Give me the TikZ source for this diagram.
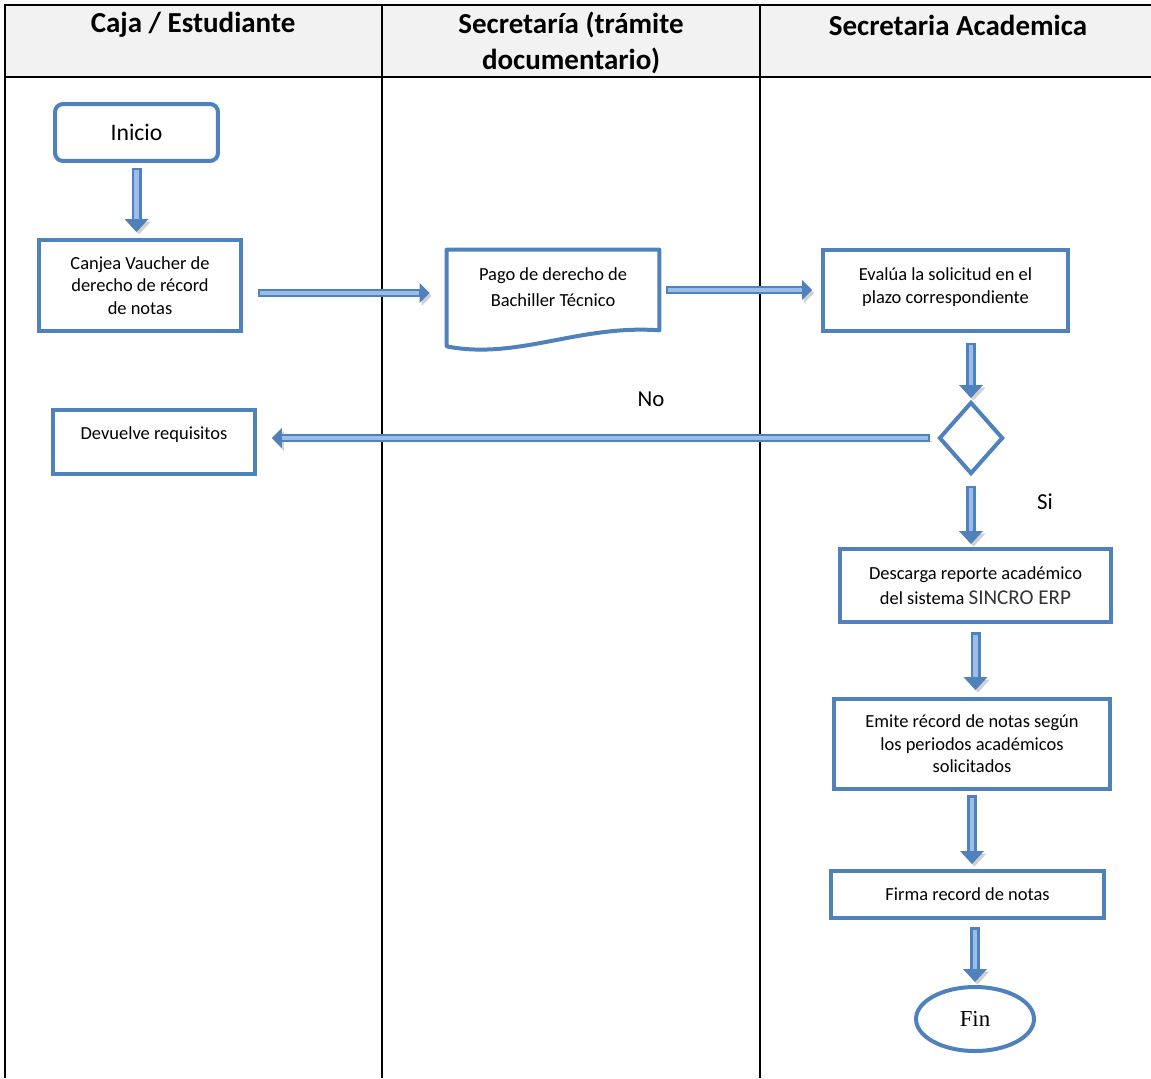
\documentclass[tikz,border=0pt]{standalone}
\usepackage{fontspec}
\setmainfont{Carlito}
\newfontfamily\serifa{Liberation Serif}
\usepackage{tikz}
\usetikzlibrary{positioning,calc,arrows.meta,shapes.geometric}

\definecolor{azul}{HTML}{4F81BD}
\definecolor{azulclaro}{HTML}{9ABDEA}
\definecolor{gris}{HTML}{F2F2F2}

\tikzset{
  linea/.style={line width=0.04cm, draw=black},
  caja/.style={draw=azul, line width=0.08cm, fill=white, align=center, inner sep=2pt,
    font=\fontsize{10.5}{12.8}\selectfont},
  titulo/.style={align=center, font=\fontsize{16.5}{20.5}\selectfont\bfseries},
  etiqueta/.style={font=\fontsize{13}{15}\selectfont},
  flechav/.style 2 args={draw=azul, line width=0.2cm,
    -{Triangle[length=0.26cm,width=0.48cm,line width=0pt]},
    shorten <=#1, shorten >=#2,
    preaction={draw=black!18, transform canvas={xshift=0.05cm,yshift=-0.05cm}},
    postaction={draw=azulclaro, line width=0.09cm, -, shorten <=#1+0.05cm, shorten >=#2+0.27cm}},
  flechah/.style 2 args={draw=azul, line width=0.16cm,
    -{Triangle[length=0.2cm,width=0.4cm,line width=0pt]},
    shorten <=#1, shorten >=#2,
    preaction={draw=black!18, transform canvas={xshift=0.04cm,yshift=-0.06cm}},
    postaction={draw=azulclaro, line width=0.07cm, -, shorten <=#1+0.04cm, shorten >=#2+0.21cm}}
}

\begin{document}
\begin{tikzpicture}[x=0.02cm,y=-0.02cm]
\useasboundingbox (0,0) rectangle (1151,1078);
\fill[gris] (5,5) rectangle (1151,77);
\draw[linea] (1151,5) -- (5,5) -- (5,1078);
\draw[linea] (5,77) -- (1151,77);
\draw[linea] (382,5) -- (382,1078);
\draw[linea] (760,5) -- (760,1078);

\node[titulo] (h1) at (193,25) {Caja / Estudiante};
\node[titulo] (h2) at (571,43) {Secretaría (trámite\\documentario)};
\node[titulo] (h3) at (958,25) {Secretaria Academica};

\node[caja, rounded corners=0.16cm, minimum width=3.26cm, minimum height=1.14cm,
  font=\fontsize{13.5}{15}\selectfont] (inicio) at (136.5,132.5) {Inicio};
\node[caja, minimum width=4.04cm, minimum height=1.82cm] (canjea) at (140,285.5)
  {Canjea Vaucher de\\derecho de récord\\de notas};
\node[align=center, minimum width=4.24cm, minimum height=1.6cm, text depth=0.12cm,
  font=\fontsize{10.5}{14.8}\selectfont] (pago) at (553,290)
  {Pago de derecho de\\Bachiller Técnico};
\draw[draw=azul, line width=0.08cm, line join=round] (pago.north west) -- (pago.north east)
  -- (pago.south east) .. controls ($(pago.south east)+(-80,-6)$) and ($(pago.south west)+(70,30)$)
  .. ($(pago.south west)+(0,16)$) -- cycle;
\node[caja, minimum width=4.9cm, minimum height=1.62cm, text depth=0.2cm] (evalua) at (945.5,290.5)
  {Evalúa la solicitud en el\\plazo correspondiente};
\node[draw=azul, line width=0.08cm, diamond, inner sep=0pt, minimum width=1.28cm,
  minimum height=1.44cm] (dec) at (971,438) {};
\node[caja, minimum width=4.04cm, minimum height=1.28cm, text depth=0.34cm] (devuelve)
  at (154,442) {Devuelve requisitos};
\node[caja, minimum width=5.42cm, minimum height=1.46cm, font=\fontsize{10.5}{14}\selectfont]
  (descarga) at (975.5,585.5)
  {Descarga reporte académico\\del sistema {\fontsize{12}{14}\selectfont\color{black!80}SINCRO ERP}};
\node[caja, minimum width=5.52cm, minimum height=1.8cm] (emite) at (972,744)
  {Emite récord de notas según\\los periodos académicos\\solicitados};
\node[caja, minimum width=5.46cm, minimum height=0.94cm] (firma) at (967.5,894.5)
  {Firma record de notas};
\node[draw=azul, line width=0.08cm, ellipse, minimum width=2.36cm, minimum height=1.28cm,
  font=\serifa\fontsize{13}{15}\selectfont] (fin) at (975,1019) {Fin};

\node[etiqueta] (no) at (651,399) {No};
\node[etiqueta] (si) at (1045,502) {Si};

\draw[flechav={0.1cm}{0.12cm}] (inicio.south) -- (inicio.south |- canjea.north);
\draw[flechah={0.3cm}{0.34cm}] ($(canjea.east)+(0,7.5)$) -- ($(pago.west |- canjea.east)+(0,7.5)$);
\draw[flechah={0.14cm}{0.18cm}] (pago.east) -- (pago.east -| evalua.west);
\draw[flechav={0.2cm}{0.04cm}] (dec |- evalua.south) -- (dec.north);
\draw[flechah={0.14cm}{0.3cm}] (dec.west) -- (dec.west -| devuelve.east);
\draw[flechav={0.2cm}{0.06cm}] (dec.south) -- (dec.south |- descarga.north);
\draw[flechav={0.16cm}{0.14cm}] (descarga.south) -- (descarga.south |- emite.north);
\draw[flechav={0.08cm}{0.1cm}] (emite.south) -- (emite.south |- firma.north);
\draw[flechav={0.14cm}{0.06cm}] (fin |- firma.south) -- (fin.north);
\end{tikzpicture}
\end{document}
